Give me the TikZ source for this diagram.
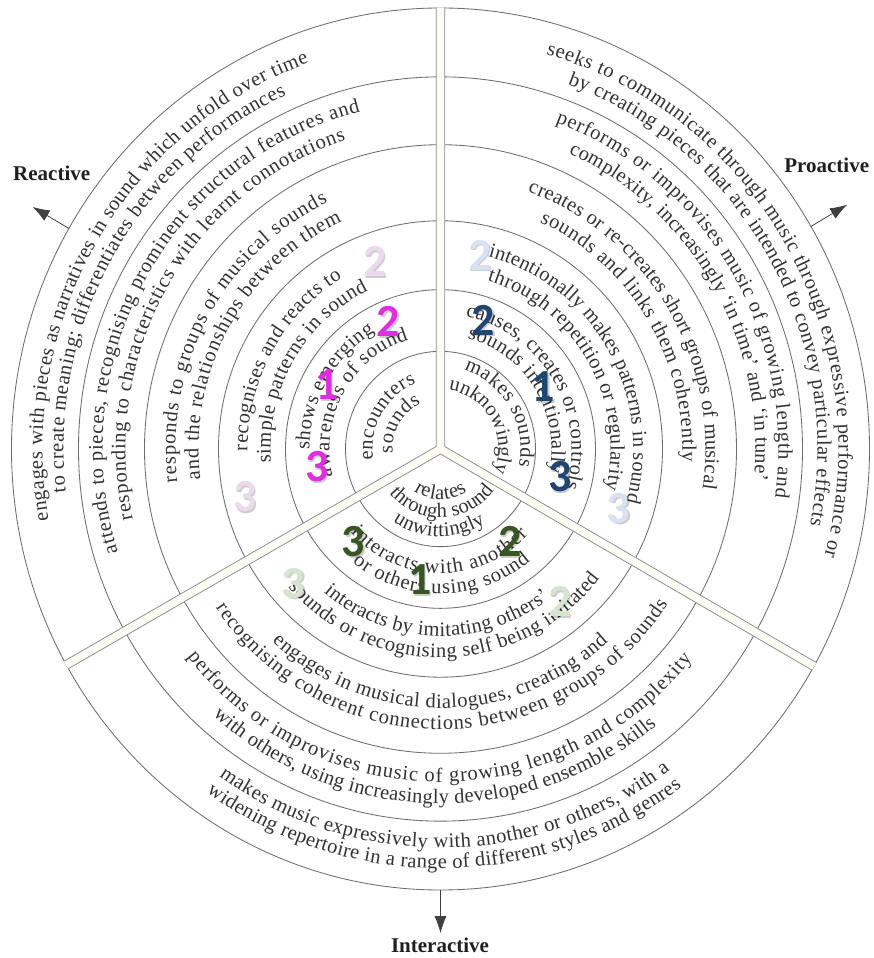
\documentclass[tikz,border=0pt]{standalone}
\usepackage{fontspec}
\setmainfont{Liberation Serif}
\newfontfamily\numfont{Carlito}
\usetikzlibrary{decorations.text,arrows.meta}
\definecolor{txt}{HTML}{333333}
\definecolor{ringc}{HTML}{6E6E6E}
\definecolor{bandfill}{HTML}{FDFDF6}
\definecolor{bandline}{HTML}{8A8A8A}
\definecolor{magA}{HTML}{E02DE0}
\definecolor{magB}{HTML}{EBD9EE}
\definecolor{bluA}{HTML}{1F4670}
\definecolor{bluB}{HTML}{D8E2F1}
\definecolor{grnA}{HTML}{375623}
\definecolor{grnB}{HTML}{D7E4D0}
\newcommand\arcfont{\fontsize{20.5}{20.5}\selectfont}
\newcommand\arcline[4]{\path[decorate,decoration={text along path,text align=fit to path,text color=txt,text={|\arcfont|#4}}] (#2:#1) arc[start angle=#2,end angle=#3,radius=#1];}
\newcommand\numlabel[4]{\node[num,numshadow] (#1s) at (#2) {#4};\node[num,text=#3] (#1) at (#2) {#4};}
\begin{document}
\begin{tikzpicture}[x=1pt,y=1.028pt,
  ring/.style={draw=ringc,line width=0.85pt},
  bandout/.style={draw=bandline,line width=9.4pt},
  bandin/.style={draw=bandfill,line width=7.6pt},
  num/.style={font={\numfont\bfseries\fontsize{46}{46}\selectfont},inner sep=0pt},
  numshadow/.style={text=black,opacity=0.2,xshift=1.5pt,yshift=-1.5pt},
  lab/.style={font={\bfseries\fontsize{21}{21}\selectfont},text=black!88,inner sep=1pt},
  arr/.style={draw=black!75,line width=0.8pt,-{Latex[length=17pt,width=12pt]}}]
\fill[white] (-440.5,-495.14) rectangle (432.5,436.77);
\useasboundingbox (-440.5,-495.14) rectangle (432.5,436.77);
% rings
\foreach \r in {95,155,222,296,362,429} \draw[ring] (0,0) circle[radius=\r];
% dividers
\draw[bandout] (0,0) -- (90:429.5) (0,0) -- (209.3:429.5) (0,0) -- (-29.5:429.5);
\draw[bandin] (0,0) -- (90:429.5) (0,0) -- (209.3:429.5) (0,0) -- (-29.5:429.5);
% Reactive (left)
\arcline{398}{190}{109.4}{engages with pieces as narratives in sound which unfold over time}
\arcline{377}{186.4}{114.2}{to create meaning; differentiates between performances}
\arcline{338}{197.3}{103.7}{attends to pieces, recognising prominent structural features and}
\arcline{315}{192.5}{107.6}{responding to characteristics with learnt connotations}
\arcline{265}{187}{115.2}{responds to groups of musical sounds}
\arcline{242}{187}{114}{and the relationships between them}
\arcline{193}{180.6}{120.6}{recognises and reacts to}
\arcline{170}{184.5}{115.2}{simple patterns in sound}
\arcline{131}{180.4}{120.1}{shows emerging}
\arcline{111}{193.7}{106.7}{awareness of sound}
\arcline{68}{189}{111}{encounters}
\arcline{48}{185}{114}{sounds}
% Proactive (right)
\arcline{398}{74.6}{-15.1}{seeks to communicate through music through expressive performance or}
\arcline{377}{70.3}{-11.3}{by creating pieces that are intended to convey particular effects}
\arcline{338}{70.1}{-7.9}{performs or improvises music of growing length and}
\arcline{315}{66}{-5.5}{complexity, increasingly ‘in time’ and ‘in tune’}
\arcline{265}{70.8}{-8.4}{creates or re-creates short groups of musical}
\arcline{242}{65.8}{-3}{sounds and links them coherently}
\arcline{193}{75.7}{-15.5}{intentionally makes patterns in sound}
\arcline{170}{74}{-13.5}{through repetition or regularity}
\arcline{131}{79}{-17}{causes, creates or controls}
\arcline{111}{76}{-12}{sounds intentionally}
\arcline{80}{73}{-12}{makes sounds}
\arcline{58}{82}{-19}{unknowingly}
% Interactive (bottom)
\arcline{388}{235.2}{306.2}{makes music expressively with another or others, with a}
\arcline{408}{235}{306.2}{widening repertoire in a range of different styles and genres}
\arcline{324}{218.6}{321}{performs or improvises music of growing length and complexity}
\arcline{345}{228.7}{308.7}{with others, using increasingly developed ensemble skills}
\arcline{252}{228.1}{311.7}{engages in musical dialogues, creating and}
\arcline{273}{214.5}{326.4}{recognising coherent connections between groups of sounds}
\arcline{182}{230.1}{306.9}{interacts by imitating others’}
\arcline{203}{221.4}{321.6}{sounds or recognising self being imitated}
\arcline{121}{222.1}{316.4}{interacts with another}
\arcline{141}{231.4}{309.6}{or others using sound}
\arcline{49}{236.8}{302.8}{relates}
\arcline{67}{220}{323}{through sound}
\arcline{85}{236}{302}{unwittingly}
% numbers
\numlabel{m1}{-113.8,62.3}{magA}{1}
\numlabel{m2}{-52.2,123.8}{magA}{2}
\numlabel{m3}{-123.8,-17.2}{magA}{3}
\numlabel{p2}{-65.5,182.2}{magB}{2}
\numlabel{p3}{-195.5,-46.4}{magB}{3}
\numlabel{b2}{42.8,125.5}{bluA}{2}
\numlabel{b1}{102.8,60.6}{bluA}{1}
\numlabel{b3}{119.5,-26.9}{bluA}{3}
\numlabel{q2}{39.5,188.7}{bluB}{2}
\numlabel{q3}{177.8,-57.7}{bluB}{3}
\numlabel{g3}{-87.2,-90.2}{grnA}{3}
\numlabel{g2}{69.5,-90.2}{grnA}{2}
\numlabel{g1}{-20.5,-127.4}{grnA}{1}
\numlabel{h3}{-147.2,-130.6}{grnB}{3}
\numlabel{h2}{119.5,-148.5}{grnB}{2}
% arrows and labels
\coordinate (reS) at (150:429);
\coordinate (reE) at (150:471);
\coordinate (prS) at (30.3:429);
\coordinate (prE) at (30.3:471);
\coordinate (inS) at (270:429);
\coordinate (inE) at (270:471);
\draw[arr] (reS) -- (reE);
\draw[arr] (prS) -- (prE);
\draw[arr] (inS) -- (inE);
\node[lab] (reactive) at (-388.8,268.2) {Reactive};
\node[lab] (proactive) at (386.2,275.6) {Proactive};
\node[lab] (interactive) at (-0.5,-482.5) {Interactive};
\end{tikzpicture}
\end{document}
